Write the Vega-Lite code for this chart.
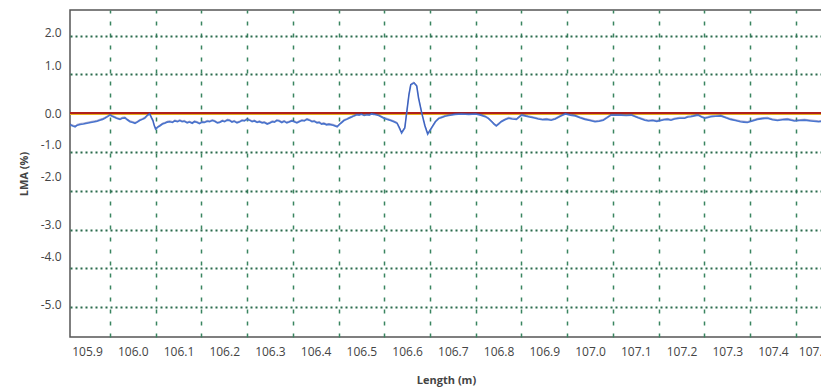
{
  "$schema": "https://vega.github.io/schema/vega-lite/v6.json",
  "width": 752,
  "height": 327,
  "autosize": {"type": "none"},
  "padding": {"left": 70, "top": 10, "right": 0, "bottom": 55},
  "background": "white",
  "config": {
    "view": {"stroke": "#555555", "strokeWidth": 1.5},
    "font": "Open Sans"
  },
  "data": {
    "values": [
      {"x":105.863,"v":-0.30},{"x":105.869,"v":-0.33},{"x":105.874,"v":-0.35},{"x":105.879,"v":-0.31},{"x":105.885,"v":-0.29},
      {"x":105.892,"v":-0.28},{"x":105.900,"v":-0.26},{"x":105.908,"v":-0.24},{"x":105.917,"v":-0.22},{"x":105.922,"v":-0.21},
      {"x":105.928,"v":-0.18},{"x":105.934,"v":-0.16},{"x":105.939,"v":-0.13},{"x":105.945,"v":-0.09},{"x":105.950,"v":-0.05},
      {"x":105.955,"v":-0.08},{"x":105.961,"v":-0.11},{"x":105.966,"v":-0.14},{"x":105.972,"v":-0.16},{"x":105.977,"v":-0.13},
      {"x":105.983,"v":-0.12},{"x":105.988,"v":-0.17},{"x":105.994,"v":-0.22},{"x":106.000,"v":-0.24},{"x":106.005,"v":-0.26},
      {"x":106.010,"v":-0.23},{"x":106.015,"v":-0.19},{"x":106.021,"v":-0.16},{"x":106.026,"v":-0.13},{"x":106.031,"v":-0.07},
      {"x":106.037,"v":-0.02},{"x":106.041,"v":-0.12},{"x":106.044,"v":-0.19},{"x":106.047,"v":-0.32},{"x":106.050,"v":-0.41},
      {"x":106.055,"v":-0.36},{"x":106.059,"v":-0.33},{"x":106.065,"v":-0.28},{"x":106.070,"v":-0.26},{"x":106.076,"v":-0.23},
      {"x":106.081,"v":-0.22},{"x":106.087,"v":-0.24},{"x":106.092,"v":-0.20},{"x":106.098,"v":-0.22},{"x":106.103,"v":-0.19},
      {"x":106.108,"v":-0.22},{"x":106.113,"v":-0.21},{"x":106.119,"v":-0.25},{"x":106.124,"v":-0.23},{"x":106.130,"v":-0.26},
      {"x":106.135,"v":-0.22},{"x":106.141,"v":-0.24},{"x":106.146,"v":-0.27},{"x":106.152,"v":-0.23},{"x":106.157,"v":-0.24},
      {"x":106.163,"v":-0.21},{"x":106.168,"v":-0.22},{"x":106.174,"v":-0.19},{"x":106.179,"v":-0.21},{"x":106.185,"v":-0.25},
      {"x":106.190,"v":-0.24},{"x":106.196,"v":-0.20},{"x":106.201,"v":-0.22},{"x":106.207,"v":-0.18},{"x":106.212,"v":-0.19},
      {"x":106.217,"v":-0.23},{"x":106.222,"v":-0.21},{"x":106.228,"v":-0.25},{"x":106.233,"v":-0.23},{"x":106.239,"v":-0.19},
      {"x":106.244,"v":-0.20},{"x":106.250,"v":-0.16},{"x":106.255,"v":-0.18},{"x":106.261,"v":-0.22},{"x":106.266,"v":-0.20},
      {"x":106.272,"v":-0.24},{"x":106.277,"v":-0.22},{"x":106.283,"v":-0.25},{"x":106.288,"v":-0.24},{"x":106.294,"v":-0.28},
      {"x":106.299,"v":-0.26},{"x":106.305,"v":-0.22},{"x":106.310,"v":-0.23},{"x":106.315,"v":-0.19},{"x":106.320,"v":-0.20},
      {"x":106.326,"v":-0.24},{"x":106.331,"v":-0.21},{"x":106.337,"v":-0.25},{"x":106.342,"v":-0.23},{"x":106.348,"v":-0.20},
      {"x":106.353,"v":-0.22},{"x":106.359,"v":-0.25},{"x":106.364,"v":-0.22},{"x":106.370,"v":-0.19},{"x":106.375,"v":-0.20},
      {"x":106.381,"v":-0.16},{"x":106.386,"v":-0.18},{"x":106.392,"v":-0.22},{"x":106.397,"v":-0.21},{"x":106.403,"v":-0.25},
      {"x":106.408,"v":-0.24},{"x":106.413,"v":-0.28},{"x":106.418,"v":-0.27},{"x":106.424,"v":-0.30},{"x":106.429,"v":-0.29},
      {"x":106.438,"v":-0.31},{"x":106.447,"v":-0.35},
      {"x":106.455,"v":-0.26},{"x":106.462,"v":-0.19},{"x":106.468,"v":-0.16},{"x":106.473,"v":-0.13},{"x":106.479,"v":-0.10},
      {"x":106.484,"v":-0.07},{"x":106.490,"v":-0.04},{"x":106.495,"v":-0.05},{"x":106.500,"v":-0.03},{"x":106.506,"v":-0.06},
      {"x":106.512,"v":-0.04},{"x":106.517,"v":-0.05},{"x":106.522,"v":-0.02},{"x":106.527,"v":-0.03},
      {"x":106.538,"v":-0.06},{"x":106.549,"v":-0.13},{"x":106.557,"v":-0.16},{"x":106.564,"v":-0.19},{"x":106.571,"v":-0.22},
      {"x":106.578,"v":-0.26},{"x":106.583,"v":-0.38},{"x":106.588,"v":-0.51},{"x":106.595,"v":-0.38},{"x":106.599,"v":0.00},
      {"x":106.604,"v":0.47},{"x":106.608,"v":0.73},{"x":106.615,"v":0.78},{"x":106.621,"v":0.70},{"x":106.625,"v":0.39},
      {"x":106.632,"v":0.00},{"x":106.639,"v":-0.33},{"x":106.645,"v":-0.54},{"x":106.652,"v":-0.41},{"x":106.662,"v":-0.22},
      {"x":106.669,"v":-0.14},{"x":106.676,"v":-0.11},{"x":106.683,"v":-0.08},{"x":106.691,"v":-0.06},{"x":106.705,"v":-0.03},
      {"x":106.719,"v":-0.02},{"x":106.735,"v":-0.03},{"x":106.750,"v":-0.02},{"x":106.761,"v":-0.05},{"x":106.771,"v":-0.09},
      {"x":106.778,"v":-0.14},{"x":106.785,"v":-0.22},{"x":106.790,"v":-0.28},{"x":106.795,"v":-0.33},{"x":106.800,"v":-0.28},
      {"x":106.806,"v":-0.22},{"x":106.814,"v":-0.17},{"x":106.822,"v":-0.13},{"x":106.830,"v":-0.15},{"x":106.839,"v":-0.16},
      {"x":106.845,"v":-0.10},{"x":106.850,"v":-0.05},{"x":106.858,"v":-0.07},{"x":106.865,"v":-0.09},{"x":106.876,"v":-0.12},
      {"x":106.887,"v":-0.15},{"x":106.896,"v":-0.17},{"x":106.905,"v":-0.16},{"x":106.915,"v":-0.18},{"x":106.924,"v":-0.15},
      {"x":106.935,"v":-0.08},{"x":106.946,"v":-0.02},
      {"x":106.957,"v":-0.05},{"x":106.968,"v":-0.07},{"x":106.978,"v":-0.12},{"x":106.989,"v":-0.16},{"x":107.000,"v":-0.19},
      {"x":107.011,"v":-0.22},{"x":107.020,"v":-0.21},{"x":107.029,"v":-0.18},{"x":107.037,"v":-0.12},{"x":107.046,"v":-0.05},
      {"x":107.057,"v":-0.05},{"x":107.068,"v":-0.05},{"x":107.079,"v":-0.06},{"x":107.090,"v":-0.05},{"x":107.105,"v":-0.12},
      {"x":107.120,"v":-0.18},{"x":107.128,"v":-0.20},{"x":107.137,"v":-0.19},{"x":107.146,"v":-0.21},{"x":107.155,"v":-0.19},
      {"x":107.162,"v":-0.17},{"x":107.170,"v":-0.16},{"x":107.177,"v":-0.18},{"x":107.185,"v":-0.15},
      {"x":107.196,"v":-0.13},{"x":107.207,"v":-0.13},{"x":107.214,"v":-0.10},{"x":107.220,"v":-0.09},{"x":107.228,"v":-0.07},
      {"x":107.236,"v":-0.05},{"x":107.244,"v":-0.10},{"x":107.251,"v":-0.13},{"x":107.258,"v":-0.11},{"x":107.264,"v":-0.09},
      {"x":107.275,"v":-0.08},{"x":107.286,"v":-0.07},{"x":107.297,"v":-0.12},{"x":107.307,"v":-0.16},{"x":107.318,"v":-0.19},
      {"x":107.329,"v":-0.22},{"x":107.336,"v":-0.23},{"x":107.344,"v":-0.24},{"x":107.355,"v":-0.20},{"x":107.366,"v":-0.16},
      {"x":107.377,"v":-0.14},{"x":107.388,"v":-0.13},{"x":107.399,"v":-0.17},{"x":107.410,"v":-0.19},{"x":107.421,"v":-0.17},
      {"x":107.432,"v":-0.16},{"x":107.440,"v":-0.18},{"x":107.447,"v":-0.20},{"x":107.458,"v":-0.19},{"x":107.469,"v":-0.18},
      {"x":107.483,"v":-0.20},{"x":107.500,"v":-0.22},{"x":107.507,"v":-0.21}
    ]
  },
  "layer": [
    {
      "mark": {"type": "line", "color": "#2f3a96", "strokeWidth": 1, "opacity": 0.0, "clip": true},
      "encoding": {
        "x": {
          "field": "x", "type": "quantitative",
          "scale": {"domain": [105.8628, 107.5073], "nice": false, "zero": false},
          "axis": {
            "orient": "top",
            "values": [105.95, 106.05, 106.15, 106.25, 106.35, 106.45, 106.55, 106.65, 106.75, 106.85, 106.95, 107.05, 107.15, 107.25, 107.35, 107.45],
            "grid": true, "gridColor": "#3a8560", "gridDash": [4, 8], "gridWidth": 1.5,
            "labels": false, "ticks": false, "domain": false, "title": null
          }
        },
        "y": {
          "field": "v", "type": "quantitative",
          "scale": {"domain": [-5.77, 2.66], "nice": false, "zero": false},
          "axis": {
            "orient": "right",
            "values": [-5, -4, -3, -2, -1, 0, 1, 2],
            "grid": true, "gridColor": "#2a6b4c", "gridDash": [2, 3], "gridWidth": 2,
            "labels": false, "ticks": false, "domain": false, "title": null
          }
        }
      }
    },
    {
      "mark": {"type": "rule", "color": "#e8b020", "strokeWidth": 1.5},
      "encoding": {"y": {"datum": -0.03, "type": "quantitative", "axis": null}}
    },
    {
      "mark": {"type": "rule", "color": "#b0201a", "strokeWidth": 1.5},
      "encoding": {"y": {"datum": 0, "type": "quantitative", "axis": null}}
    },
    {
      "mark": {"type": "line", "color": "#4a76d0", "strokeWidth": 1.6, "clip": true},
      "encoding": {
        "x": {
          "field": "x", "type": "quantitative",
          "axis": {
            "orient": "bottom",
            "values": [105.9, 106.0, 106.1, 106.2, 106.3, 106.4, 106.5, 106.6, 106.7, 106.8, 106.9, 107.0, 107.1, 107.2, 107.3, 107.4, 107.5],
            "format": ".1f",
            "grid": false, "ticks": false, "domain": false,
            "labelFont": "Open Sans", "labelFontSize": 12, "labelColor": "#444444",
            "labelPadding": 9, "labelOverlap": false, "labelFlush": false, "labelBound": false,
            "labelOffset": {"condition": {"test": "datum.value > 107.45", "value": -5}, "value": 0},
            "title": "Length (m)", "titleFont": "Open Sans", "titleFontSize": 11,
            "titleFontWeight": "bold", "titleColor": "#444444", "titlePadding": 17
          }
        },
        "y": {
          "field": "v", "type": "quantitative",
          "axis": {
            "orient": "left",
            "values": [2.085, 1.242, 0, -0.82, -1.637, -2.881, -3.698, -4.943],
            "labelExpr": "round(datum.value) + '.0'",
            "grid": false, "ticks": false, "domain": false,
            "labelFont": "Open Sans", "labelFontSize": 12, "labelColor": "#444444",
            "labelPadding": 9, "labelOverlap": false, "labelFlush": false,
            "title": "LMA (%)", "titleFont": "Open Sans", "titleFontSize": 11,
            "titleFontWeight": "bold", "titleColor": "#444444", "titlePadding": 11
          }
        }
      }
    },
    {
      "mark": {"type": "line", "color": "#2f3a96", "strokeWidth": 0.8, "opacity": 0.5, "yOffset": -1, "clip": true},
      "encoding": {
        "x": {"field": "x", "type": "quantitative", "axis": null},
        "y": {"field": "v", "type": "quantitative", "axis": null}
      }
    }
  ],
  "resolve": {"axis": {"x": "independent", "y": "independent"}}
}
